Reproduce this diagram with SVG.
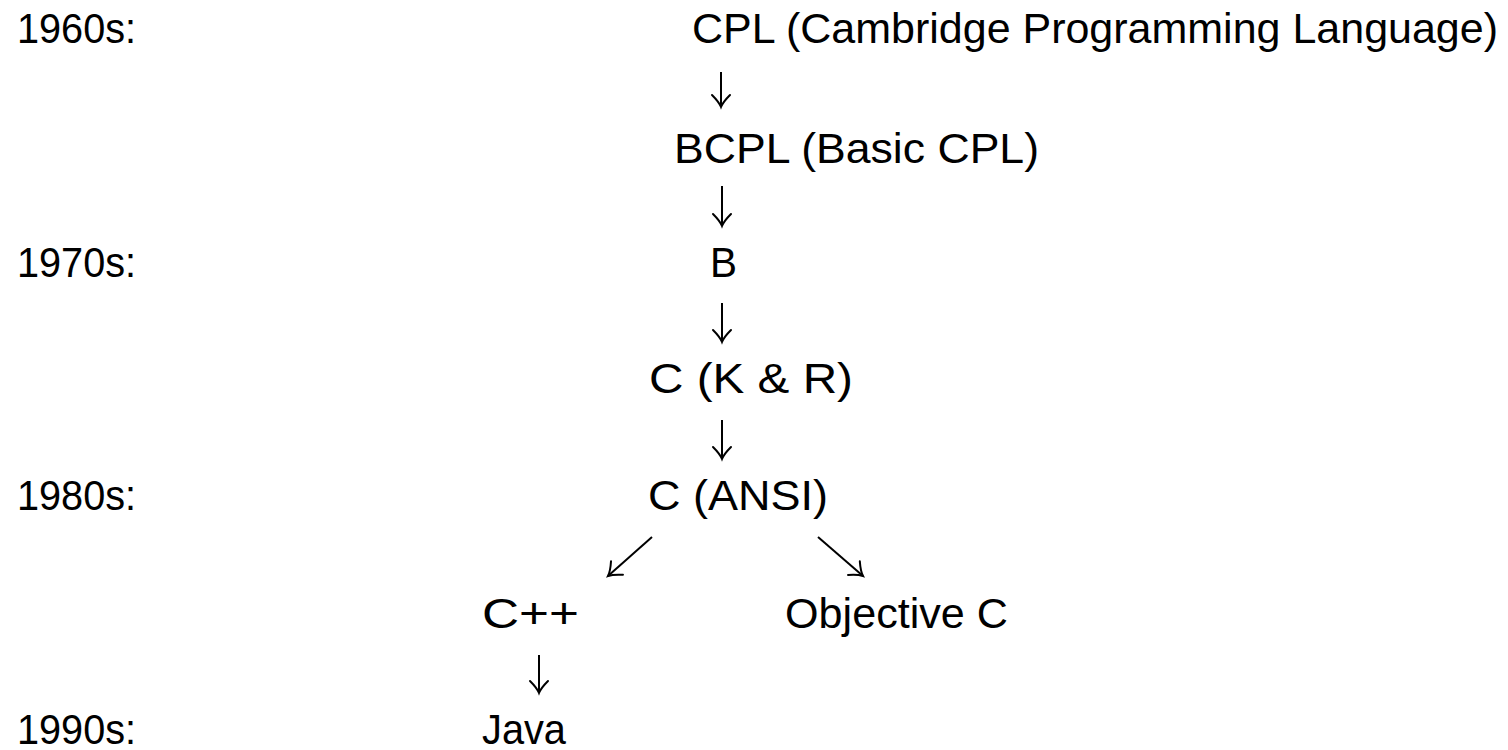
<svg xmlns="http://www.w3.org/2000/svg" width="1508" height="750" viewBox="0 0 1508 750">
<style>
.t{font-family:"Liberation Sans",Arial,sans-serif;font-size:43px;fill:#000}
.c{fill:none;stroke:#000;stroke-width:2}
</style>
<defs>
<marker id="ah" markerUnits="userSpaceOnUse" viewBox="-14 -11 16 22" markerWidth="16" markerHeight="22" refX="0" refY="0" orient="auto" overflow="visible">
<path d="M-12,-9 Q-5,-2 0,0 Q-5,2 -12,9" fill="none" stroke="#000" stroke-width="2" stroke-linecap="round"/>
</marker>
</defs>
<rect width="1508" height="750" fill="#fff"/>
<g id="decades">
<text class="t" x="17" y="43" textLength="119" lengthAdjust="spacingAndGlyphs">1960s:</text>
<text class="t" x="17" y="277" textLength="119" lengthAdjust="spacingAndGlyphs">1970s:</text>
<text class="t" x="17" y="510" textLength="119" lengthAdjust="spacingAndGlyphs">1980s:</text>
<text class="t" x="17" y="744" textLength="119" lengthAdjust="spacingAndGlyphs">1990s:</text>
</g>
<g id="cpl"><text class="t" x="692" y="43" textLength="806" lengthAdjust="spacingAndGlyphs">CPL (Cambridge Programming Language)</text></g>
<g id="bcpl"><text class="t" x="674" y="163" textLength="365" lengthAdjust="spacingAndGlyphs">BCPL (Basic CPL)</text></g>
<g id="b"><text class="t" x="710" y="277" textLength="27" lengthAdjust="spacingAndGlyphs">B</text></g>
<g id="ckr"><text class="t" x="649" y="393" textLength="204" lengthAdjust="spacingAndGlyphs">C (K &amp; R)</text></g>
<g id="cansi"><text class="t" x="648" y="510" textLength="180" lengthAdjust="spacingAndGlyphs">C (ANSI)</text></g>
<g id="cpp"><text class="t" x="482" y="628" textLength="97" lengthAdjust="spacingAndGlyphs">C++</text></g>
<g id="objc"><text class="t" x="785" y="628" textLength="223" lengthAdjust="spacingAndGlyphs">Objective C</text></g>
<g id="java"><text class="t" x="482" y="744" textLength="84" lengthAdjust="spacingAndGlyphs">Java</text></g>
<g id="connectors">
<path class="c" d="M721,72 V107" marker-end="url(#ah)"/>
<path class="c" d="M722,186 V226" marker-end="url(#ah)"/>
<path class="c" d="M722,303 V342" marker-end="url(#ah)"/>
<path class="c" d="M722,420 V459" marker-end="url(#ah)"/>
<path class="c" d="M539,655 V693" marker-end="url(#ah)"/>
<path class="c" d="M652,537 L608,576" marker-end="url(#ah)"/>
<path class="c" d="M818,537 L863,576" marker-end="url(#ah)"/>
</g>
</svg>
